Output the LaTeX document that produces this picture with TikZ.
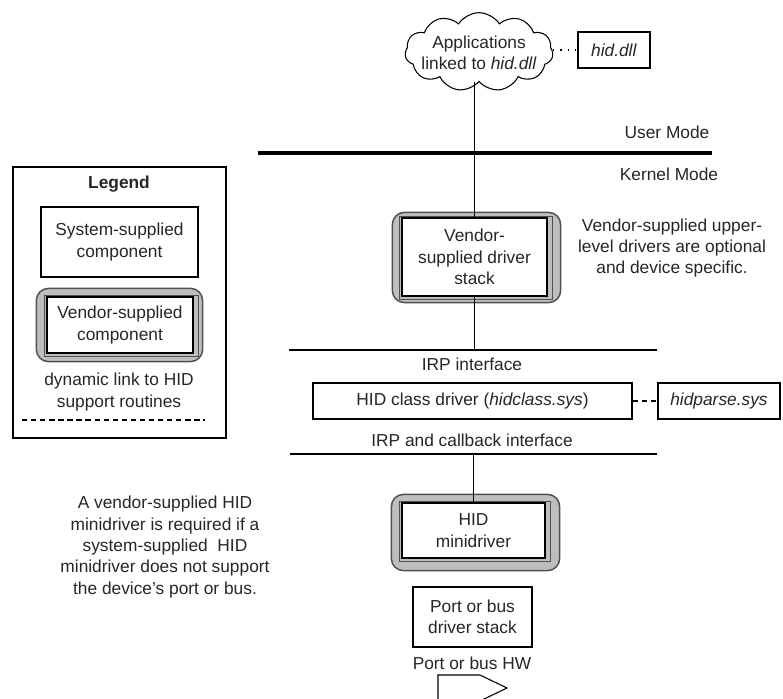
\documentclass[tikz,border=0pt]{standalone}
\usepackage{fontspec}
\setmainfont{Liberation Sans}
\usetikzlibrary{shapes.symbols,calc,backgrounds}
\definecolor{txt}{HTML}{262626}
\definecolor{frgray}{HTML}{BEBEBE}
\definecolor{frline}{HTML}{505050}
\newcommand\vframe[5]{%
  \draw[outerg] ($(#1.north west)+(-#2,-#3)$) rectangle ($(#1.south east)+(#4,#5)$);
  \draw[midg] ($(#1.north west)+(-2,-1)$) rectangle ($(#1.south east)+(5,3)$);
}
\begin{document}
\begin{tikzpicture}[x=0.75pt,y=-0.75pt,
  every node/.style={font=\fontsize{13}{16}\selectfont, inner sep=0pt, text=txt},
  box/.style={draw, line width=0.9pt, fill=white, align=center},
  lbl/.style={align=center},
  outerg/.style={draw=frline, fill=frgray, line width=1.1pt, rounded corners=9pt},
  midg/.style={draw=frline, line width=0.6pt},
  conn/.style={line width=0.8pt},
  sepline/.style={line width=1.5pt},
  dashsep/.style={line width=0.8pt, dash pattern=on 4pt off 2.8pt}
]
\useasboundingbox (0,0) rectangle (783,699);

% top: cloud and hid.dll
\node[cloud, draw, line width=0.8pt, cloud puffs=11, cloud puff arc=115,
      aspect=1.9, minimum width=111pt, minimum height=59pt] (cloud) at (479,52) {};
\node[lbl] (apps) at (479,53) {Applications\\linked to \textit{hid.dll}};
\node[box, minimum width=54pt, minimum height=27pt] (hiddll) at (614,50) {\textit{hid.dll}};
\draw[line width=0.9pt, dash pattern=on 0.9pt off 4.5pt] (cloud.east |- hiddll.west) -- (hiddll.west);

% user / kernel separator
\coordinate (ukL) at (258,153);
\coordinate (ukR) at (712,153);
\draw[line width=3pt] (ukL) -- (ukR);
\node (user) at (667,132) {User Mode};
\node (kernel) at (669,174) {Kernel Mode};

% vendor-supplied driver stack
\node[box, minimum width=108.75pt, minimum height=58.5pt] (stack) at (474.5,257)
  {Vendor-\\supplied driver\\stack};
\node[lbl] (upper) at (672,248) {Vendor-supplied upper-\\level drivers are optional\\and device specific.};

% IRP interface
\coordinate (irpL) at (289,350);
\coordinate (irpR) at (657,350);
\draw[sepline] (irpL) -- (irpR);
\node (irptxt) at (472,364) {IRP interface};

% HID class driver
\node[box, minimum width=239.25pt, minimum height=27pt] (hidclass) at (472.5,401)
  {HID class driver (\textit{hidclass.sys})};
\node[box, minimum width=91.5pt, minimum height=27pt] (hidparse) at (719,401) {\textit{hidparse.sys}};
\draw[dashsep] (hidclass.east) -- (hidparse.west);

% IRP and callback interface
\node (cbtxt) at (472,440) {IRP and callback interface};
\coordinate (cbL) at (290,454);
\coordinate (cbR) at (657,454);
\draw[sepline] (cbL) -- (cbR);

% HID minidriver
\node[box, minimum width=107.25pt, minimum height=41.25pt] (mini) at (473.5,530.5)
  {HID\\minidriver};
\node[lbl] (mininote) at (165,547) {A vendor-supplied HID\\minidriver is required if a\\system-supplied~ HID\\minidriver does not support\\the device's port or bus.};

% port or bus
\node[box, minimum width=89.25pt, minimum height=45pt] (port) at (472.5,617)
  {Port or bus\\driver stack};
\node (hwtxt) at (472,663) {Port or bus HW};
\draw[conn, line join=miter] (438,705) -- (438,675) -- (480,675) -- (507,688) -- (480,701) -- cycle;

% connectors
\draw[conn] (cloud.south -| stack.north) -- (stack.north);
\draw[conn] (stack.south) -- (stack.south |- irpL);
\draw[conn] (mini.north |- cbL) -- (mini.north);

% legend
\node[draw, line width=1.1pt, minimum width=159.75pt, minimum height=203.25pt] (legend) at (119.5,302.5) {};
\node[font=\fontsize{13}{16}\selectfont\bfseries] (legtitle) at (119,184) {Legend};
\node[box, minimum width=117.75pt, minimum height=52.5pt] (syscomp) at (119.5,242)
  {System-supplied\\component};
\node[box, minimum width=109.5pt, minimum height=42pt] (vencomp) at (120,325)
  {Vendor-supplied\\component};
\node[lbl] (dynlink) at (119,392) {dynamic link to HID\\support routines};
\coordinate (dlL) at (22,420);
\coordinate (dlR) at (205,420);
\draw[dashsep] (dlL) -- (dlR);

% vendor frames
\begin{scope}[on background layer]
  \vframe{stack}{9}{5}{13}{6}
  \vframe{mini}{10}{8}{14}{12}
  \vframe{vencomp}{10}{8}{9}{8}
\end{scope}
\end{tikzpicture}
\end{document}
